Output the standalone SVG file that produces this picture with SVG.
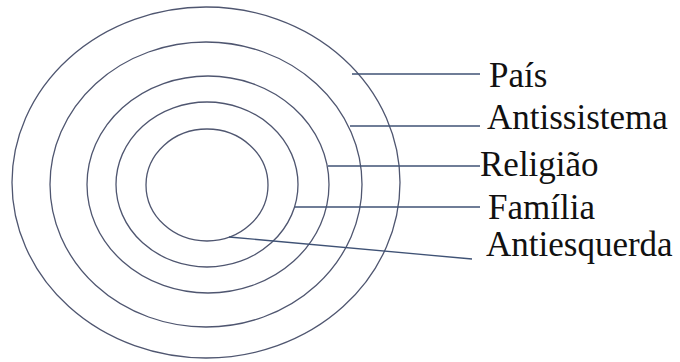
<svg xmlns="http://www.w3.org/2000/svg" width="680" height="362" viewBox="0 0 680 362">
<style>
.ring{fill:none;stroke:#4f5670;stroke-width:1.3}
.conn{fill:none;stroke:#3f5275;stroke-width:1.3}
text{font-family:'Liberation Serif','Times New Roman',serif;font-size:35px;fill:#111}
</style>
<rect width="680" height="362" fill="#ffffff"/>
<g id="ring-pais"><ellipse class="ring" cx="206" cy="182.5" rx="194" ry="175.5"/></g>
<g id="ring-antissistema"><ellipse class="ring" cx="206" cy="184.5" rx="156" ry="142.5"/></g>
<g id="ring-religiao"><ellipse class="ring" cx="208" cy="184.5" rx="121" ry="108.5"/></g>
<g id="ring-familia"><ellipse class="ring" cx="207" cy="184.5" rx="91" ry="82.5"/></g>
<g id="ring-antiesquerda"><ellipse class="ring" cx="207" cy="185" rx="61" ry="56"/></g>
<g id="connectors">
<line class="conn" x1="352" y1="74" x2="480" y2="74"/>
<line class="conn" x1="350" y1="126" x2="480" y2="126"/>
<line class="conn" x1="328" y1="166" x2="480" y2="166"/>
<line class="conn" x1="295" y1="207" x2="480" y2="207"/>
<line class="conn" x1="229" y1="237" x2="472" y2="259"/>
</g>
<g id="label-pais"><text x="489" y="87">País</text></g>
<g id="label-antissistema"><text x="487" y="129">Antissistema</text></g>
<g id="label-religiao"><text x="480" y="176">Religião</text></g>
<g id="label-familia"><text x="488" y="219">Família</text></g>
<g id="label-antiesquerda"><text x="486" y="256">Antiesquerda</text></g>
</svg>
